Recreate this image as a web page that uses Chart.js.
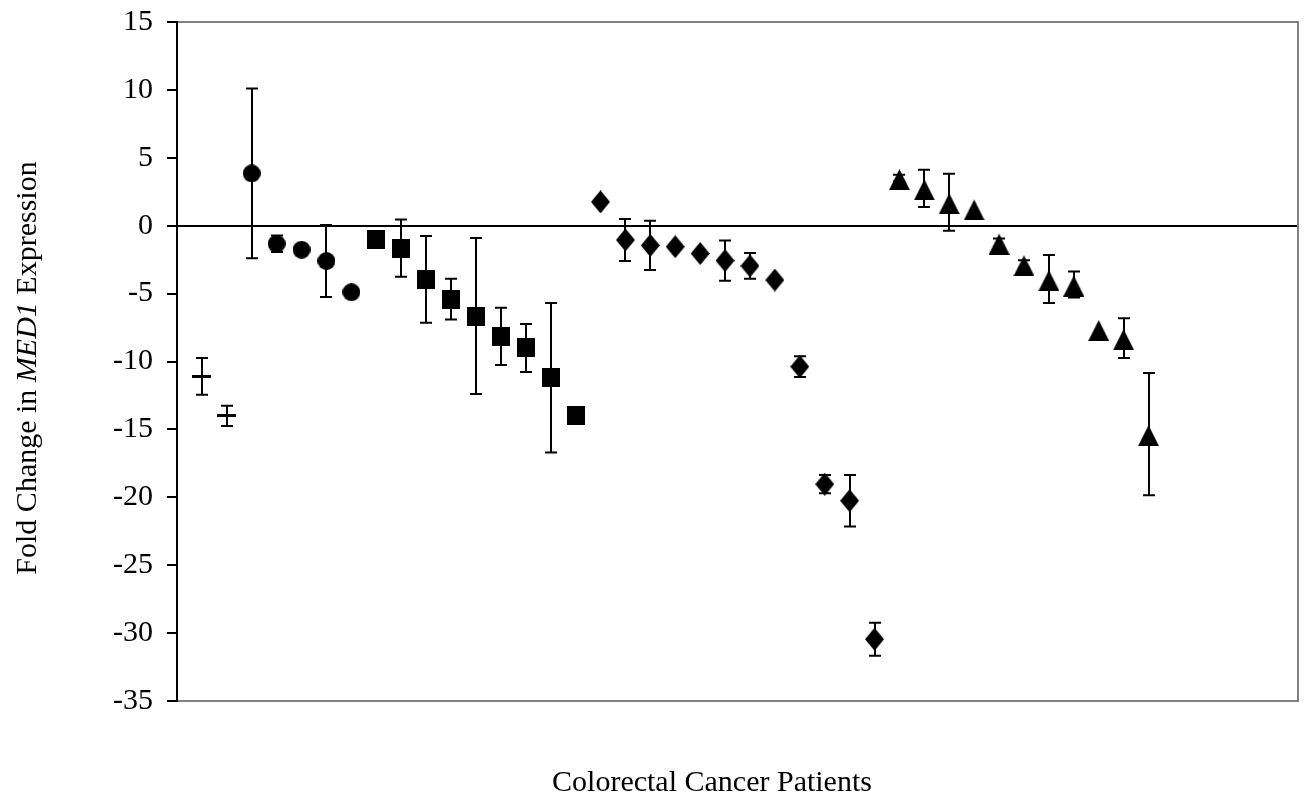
<!DOCTYPE html>
<html>
<head>
<meta charset="utf-8">
<title>MED1 fold change</title>
<script src="https://cdn.jsdelivr.net/npm/chart.js@4/dist/chart.umd.min.js"></script>
<style>
  html, body { margin: 0; padding: 0; background: #fff; }
  #wrap { width: 1306px; height: 799px; position: relative; }
</style>
</head>
<body>
<div id="wrap"><canvas id="medChart" width="1306" height="799"></canvas></div>
<script>
// values, one group per marker type
const crossValues = [-11.1, -14.0];
const crossErrors = [1.35, 0.75];

const circleValues = [3.85, -1.33, -1.77, -2.6, -4.9];
const circleErrors = [6.25, 0.6, 0, 2.65, 0];

const squareValues = [-1.0, -1.65, -3.95, -5.4, -6.65, -8.15, -9.0, -11.2, -14.0];
const squareErrors = [0, 2.1, 3.2, 1.5, 5.75, 2.1, 1.77, 5.5, 0];

const diamondValues = [1.75, -1.05, -1.45, -1.55, -2.05, -2.57, -2.96, -4.0, -10.38, -19.03, -20.25, -30.45];
const diamondErrors = [0, 1.55, 1.82, 0, 0, 1.48, 0.95, 0, 0.77, 0.67, 1.9, 1.22];

const triangleValues = [3.5, 2.75, 1.73, 1.27, -1.25, -2.84, -3.93, -4.33, -7.61, -8.28, -15.35];
const triangleErrors = [0.25, 1.37, 2.1, 0, 0.3, 0.3, 1.77, 0.95, 0, 1.47, 4.5];

const yTicks = [-35, -30, -25, -20, -15, -10, -5, 0, 5, 10, 15];

const FONT = '"Liberation Serif", "Times New Roman", serif';

// markers are small canvases so their size does not widen the chart's padding
function makeMarker(w, h, draw) {
    const c = document.createElement('canvas');
    c.width = w;
    c.height = h;
    const g = c.getContext('2d');
    g.fillStyle = '#000';
    g.beginPath();
    draw(g, w, h);
    g.fill();
    return c;
}

const dashMarker = makeMarker(19, 3, (g, w, h) => g.rect(0, 0, w, h));
const circleMarker = makeMarker(18, 18, (g, w, h) => g.arc(w / 2, h / 2, w / 2, 0, Math.PI * 2));
const squareMarker = makeMarker(18, 19, (g, w, h) => g.rect(0, 0, w, h));
const diamondMarker = makeMarker(19, 23, (g, w, h) => {
    g.moveTo(w / 2, 0);
    g.lineTo(w, h / 2);
    g.lineTo(w / 2, h);
    g.lineTo(0, h / 2);
    g.closePath();
});
// triangle sits a little below the point, like the original markers
const triangleMarker = makeMarker(21, 24, (g, w, h) => {
    g.moveTo(w / 2, 3);
    g.lineTo(w, h);
    g.lineTo(0, h);
    g.closePath();
});

// patients are numbered along x in the order of the groups
let patient = 0;
const toPoints = (values, errors) => values.map((v, i) => {
    patient += 1;
    return { x: patient, y: v, err: errors[i] };
});

const groups = [
    { values: crossValues, errors: crossErrors, style: dashMarker },
    { values: circleValues, errors: circleErrors, style: circleMarker },
    { values: squareValues, errors: squareErrors, style: squareMarker },
    { values: diamondValues, errors: diamondErrors, style: diamondMarker },
    { values: triangleValues, errors: triangleErrors, style: triangleMarker },
];

const datasets = groups.map((grp) => ({
    data: toPoints(grp.values, grp.errors),
    pointStyle: grp.style,
    pointRadius: 6,
    pointHoverRadius: 0,
    pointBorderWidth: 0,
    showLine: false,
}));

const errorBars = {
    id: 'errorBars',
    beforeDatasetsDraw(chart) {
        const { ctx, scales: { x, y } } = chart;
        ctx.save();
        ctx.strokeStyle = '#000';
        ctx.lineWidth = 2;
        chart.data.datasets.forEach((ds) => {
            ds.data.forEach((p) => {
                if (!p.err) return;
                const px = Math.round(x.getPixelForValue(p.x));
                const top = y.getPixelForValue(p.y + p.err);
                const bottom = y.getPixelForValue(p.y - p.err);
                ctx.beginPath();
                ctx.moveTo(px, top);
                ctx.lineTo(px, bottom);
                ctx.moveTo(px - 6, top);
                ctx.lineTo(px + 6, top);
                ctx.moveTo(px - 6, bottom);
                ctx.lineTo(px + 6, bottom);
                ctx.stroke();
            });
        });
        ctx.restore();
    },
};

const frame = {
    id: 'frame',
    beforeDatasetsDraw(chart) {
        const { ctx, chartArea: a } = chart;
        ctx.save();
        ctx.lineWidth = 2;
        ctx.strokeStyle = '#808080';
        ctx.beginPath();
        ctx.moveTo(a.left, a.top);
        ctx.lineTo(a.right, a.top);
        ctx.lineTo(a.right, a.bottom);
        ctx.lineTo(a.left, a.bottom);
        ctx.stroke();
        ctx.strokeStyle = '#000';
        ctx.beginPath();
        ctx.moveTo(a.left, a.top - 1);
        ctx.lineTo(a.left, a.bottom + 1);
        ctx.stroke();
        ctx.restore();
    },
};

const axisTitles = {
    id: 'axisTitles',
    afterDraw(chart) {
        const { ctx } = chart;
        ctx.save();
        ctx.fillStyle = '#000';
        ctx.textBaseline = 'alphabetic';

        ctx.font = `30px ${FONT}`;
        ctx.textAlign = 'center';
        ctx.fillText('Colorectal Cancer Patients', 712, 791);

        const parts = [
            { text: 'Fold Change in ', font: `30px ${FONT}` },
            { text: 'MED1', font: `italic 30px ${FONT}` },
            { text: ' Expression', font: `30px ${FONT}` },
        ];
        ctx.textAlign = 'left';
        const total = parts.reduce((sum, p) => {
            ctx.font = p.font;
            return sum + ctx.measureText(p.text).width;
        }, 0);
        ctx.translate(36, 368);
        ctx.rotate(-Math.PI / 2);
        let pos = -total / 2;
        parts.forEach((p) => {
            ctx.font = p.font;
            ctx.fillText(p.text, pos, 0);
            pos += ctx.measureText(p.text).width;
        });
        ctx.restore();
    },
};

new Chart(document.getElementById('medChart'), {
    type: 'scatter',
    data: { datasets },
    options: {
        responsive: false,
        animation: false,
        events: [],
        layout: { padding: { left: 0, top: 22, right: 8, bottom: 98 } },
        plugins: { legend: { display: false }, tooltip: { enabled: false } },
        scales: {
            x: {
                type: 'linear',
                min: 0,
                max: 45,
                ticks: { display: false },
                grid: { display: false },
                border: { display: false },
                afterFit: (scale) => {
                    scale.height = 0;
                    scale.paddingLeft = 0;
                    scale.paddingRight = 0;
                },
            },
            y: {
                type: 'linear',
                min: -35,
                max: 15,
                afterBuildTicks: (scale) => { scale.ticks = yTicks.map((v) => ({ value: v })); },
                ticks: {
                    color: '#000',
                    padding: 14,
                    font: { family: FONT, size: 30 },
                },
                grid: {
                    drawOnChartArea: true,
                    drawTicks: true,
                    tickLength: 10,
                    tickColor: '#000',
                    lineWidth: 2,
                    color: (c) => (c.tick && c.tick.value === 0 ? '#000' : 'rgba(0,0,0,0)'),
                },
                border: { display: false },
                afterFit: (scale) => {
                    scale.width = 177;
                    scale.paddingTop = 0;
                    scale.paddingBottom = 0;
                },
            },
        },
    },
    plugins: [frame, errorBars, axisTitles],
});
</script>
</body>
</html>
